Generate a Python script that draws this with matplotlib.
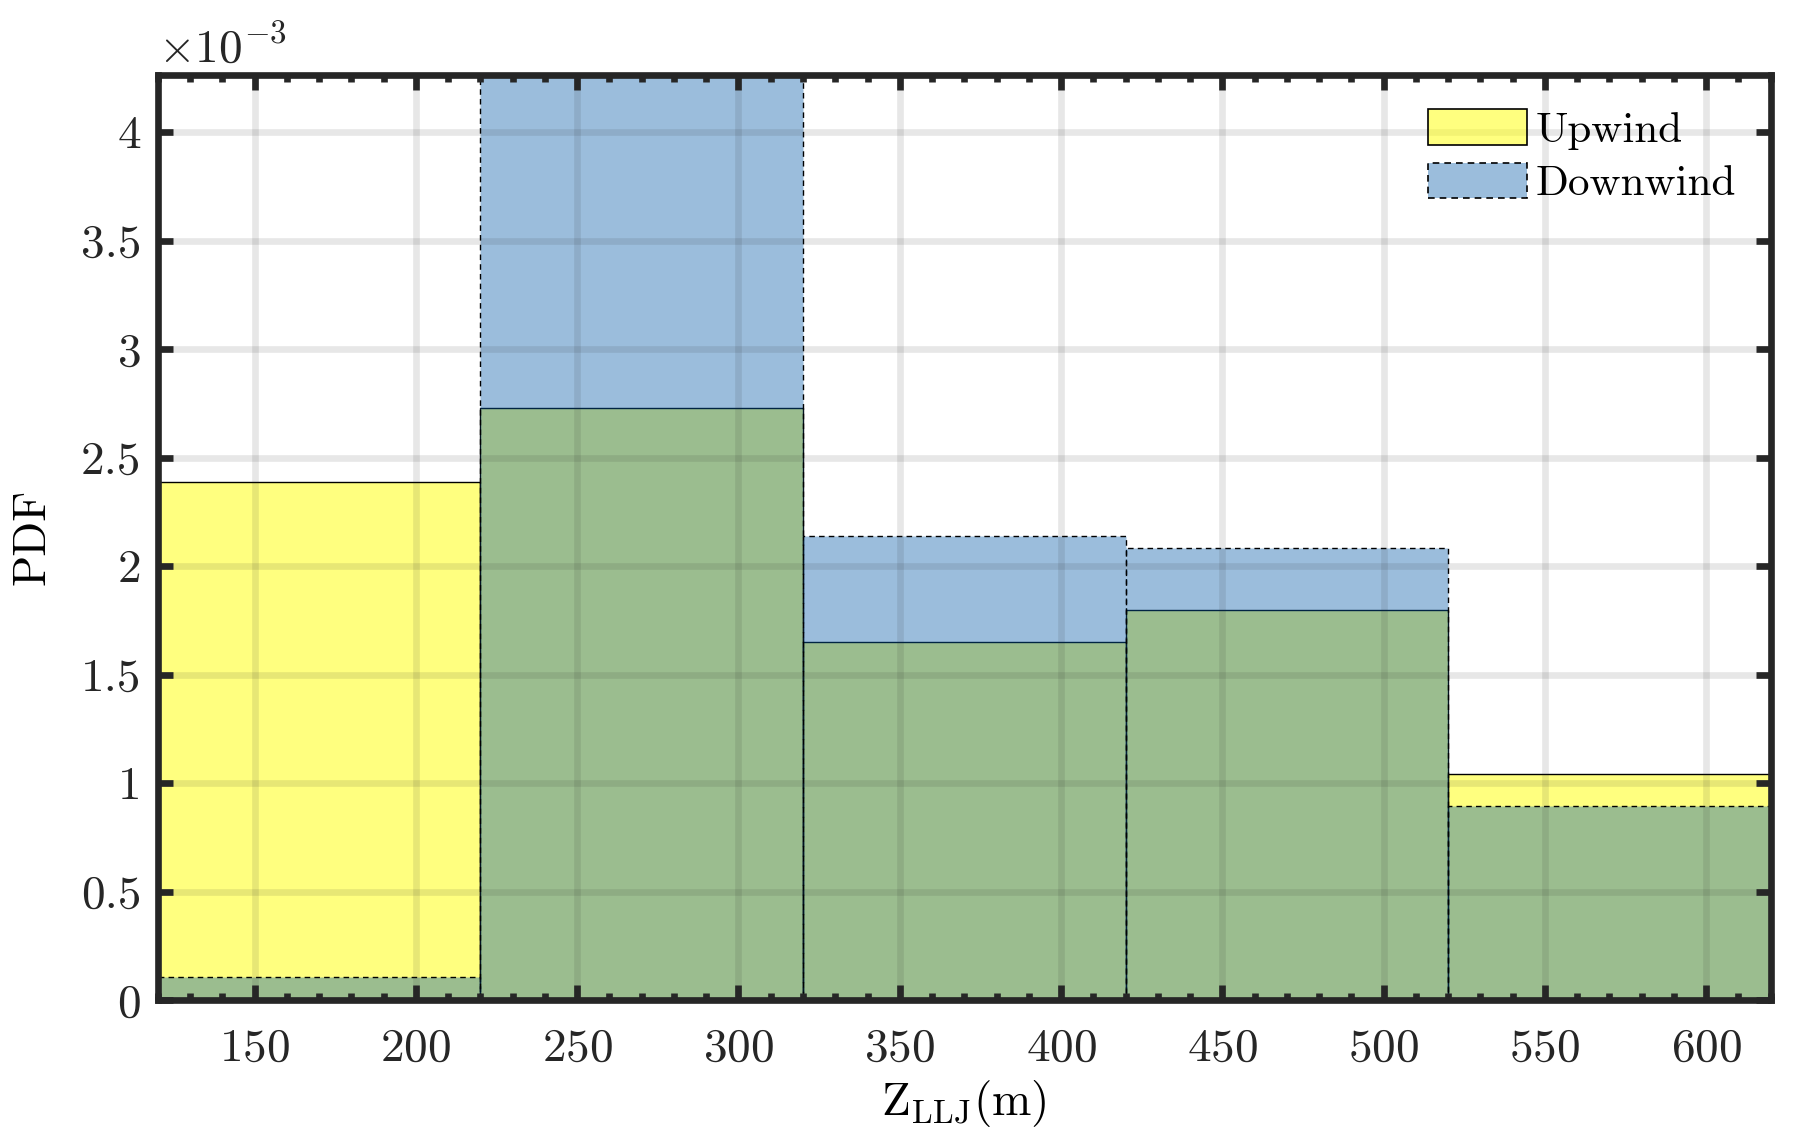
import numpy as np
import matplotlib
matplotlib.use("Agg")
import matplotlib.pyplot as plt
from matplotlib.ticker import MultipleLocator, FuncFormatter
from matplotlib.patches import Patch

plt.rcParams['font.family'] = ['cmr10', 'DejaVu Serif']
plt.rcParams['mathtext.fontset'] = 'cm'
plt.rcParams['axes.formatter.use_mathtext'] = True

# histogram bins (m) and PDF values
bin_edges = [120, 220, 320, 420, 520, 620]
upwind = [2.387e-3, 2.730e-3, 1.650e-3, 1.797e-3, 1.043e-3]
downwind = [0.105e-3, 4.265e-3, 2.140e-3, 2.082e-3, 0.896e-3]

frame = '#262626'
up_face = (1.0, 1.0, 0.0, 0.5)
down_face = (0.02, 0.36, 0.66, 0.4)

fig = plt.figure(figsize=(8.97, 5.735), dpi=200)
ax = fig.add_axes([0.088, 0.128, 0.899, 0.807])

left = np.array(bin_edges[:-1])
widths = np.diff(bin_edges)
ax.bar(left, upwind, width=widths, align='edge', facecolor=up_face,
       edgecolor='k', linewidth=0.5, linestyle='-', zorder=1)
ax.bar(left, downwind, width=widths, align='edge', facecolor=down_face,
       edgecolor='k', linewidth=0.5, linestyle=(0, (4, 3)), zorder=1.1)

ax.set_xlim(120, 620)
ax.set_ylim(0, max(downwind))
ax.xaxis.set_major_locator(MultipleLocator(50))
ax.xaxis.set_minor_locator(MultipleLocator(10))
ax.yaxis.set_major_locator(MultipleLocator(0.5e-3))
ax.yaxis.set_major_formatter(FuncFormatter(lambda v, p: '{:g}'.format(round(v * 1e3, 3))))

ax.set_axisbelow(False)
ax.grid(True, which='major', color='#262626', alpha=0.11, linewidth=2.4)

ax.tick_params(which='both', direction='in', top=True, right=True,
               color=frame, labelcolor=frame, labelsize=17, width=2.4)
ax.tick_params(which='major', length=5.5)
ax.tick_params(which='minor', length=2.6)
ax.tick_params(axis='x', which='major', pad=10)
ax.tick_params(axis='y', which='major', pad=6)
for s in ax.spines.values():
    s.set_linewidth(2.4)
    s.set_color(frame)
    s.set_zorder(5)

ax.set_xlabel(r'$\mathrm{Z}_{\mathrm{LLJ}}\mathrm{(m)}$', fontsize=17, labelpad=3)
ax.set_ylabel('PDF', fontsize=16.5, labelpad=10)
ax.text(0.0, 1.004, r'$\times10^{-3}$', transform=ax.transAxes,
        fontsize=17, color=frame, ha='left', va='bottom')

handles = [Patch(facecolor=up_face, edgecolor='k', linewidth=0.6),
           Patch(facecolor=down_face, edgecolor='k', linewidth=0.6, linestyle=(0, (4, 3)))]
ax.legend(handles, ['Upwind', 'Downwind'], loc='upper right', frameon=False,
          fontsize=15.5, handlelength=2.3, handleheight=0.9, handletextpad=0.2,
          labelspacing=0.3, borderaxespad=0.5, borderpad=0.3)

fig.savefig('out.png', dpi=200)
